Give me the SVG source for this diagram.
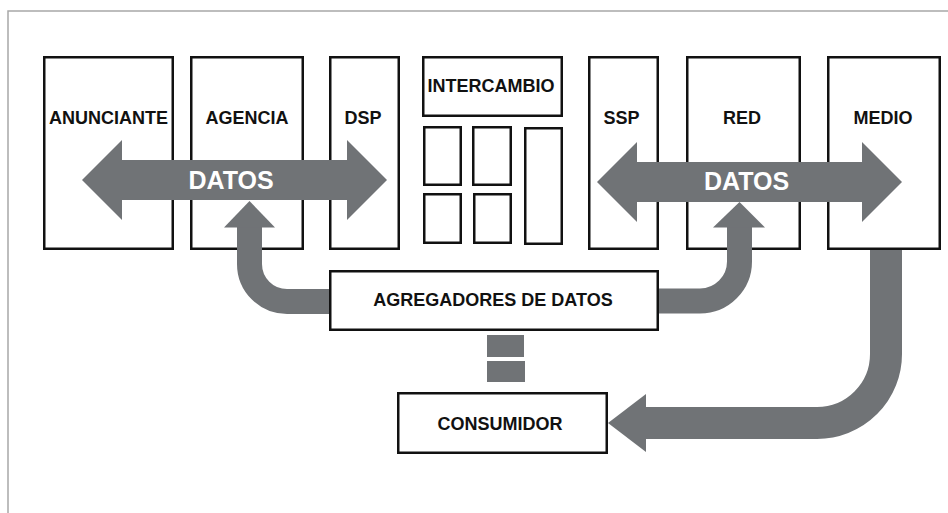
<svg xmlns="http://www.w3.org/2000/svg" width="948" height="513" viewBox="0 0 948 513">
<style>
.box{fill:#fff;stroke:#111;stroke-width:2.5}
.lbl{font-family:"Liberation Sans",Arial,sans-serif;font-weight:bold;font-size:18px;fill:#111;text-anchor:middle}
.dat{font-family:"Liberation Sans",Arial,sans-serif;font-weight:bold;font-size:25px;fill:#fff;text-anchor:middle}
.g{fill:#707376}
.pipe{fill:none;stroke:#707376}
</style>
<rect x="0" y="0" width="948" height="513" fill="#fff"/>
<rect x="8" y="11" width="1000" height="600" fill="none" stroke="#a8a8a8" stroke-width="1.5"/>
<g id="anunciante"><rect class="box" x="44.25" y="57.25" width="128.5" height="191.5"/><text class="lbl" x="108.5" y="124">ANUNCIANTE</text></g>
<g id="agencia"><rect class="box" x="191.25" y="57.25" width="111.5" height="191.5"/><text class="lbl" x="247" y="124">AGENCIA</text></g>
<g id="dsp"><rect class="box" x="330.25" y="57.25" width="68.5" height="191.5"/><text class="lbl" x="363" y="124">DSP</text></g>
<g id="intercambio">
<rect class="box" x="423.25" y="57.25" width="138.5" height="58.5"/>
<text class="lbl" x="491" y="91.5">INTERCAMBIO</text>
<rect class="box" x="424.25" y="127.25" width="36.5" height="57.5"/>
<rect class="box" x="473.25" y="127.25" width="37.5" height="57.5"/>
<rect class="box" x="525.25" y="128.25" width="36.5" height="115.5"/>
<rect class="box" x="424.25" y="194.25" width="36.5" height="48.5"/>
<rect class="box" x="474.25" y="194.25" width="36.5" height="48.5"/>
</g>
<g id="ssp"><rect class="box" x="589.25" y="57.25" width="68.5" height="191.5"/><text class="lbl" x="621.5" y="124">SSP</text></g>
<g id="red"><rect class="box" x="687.25" y="57.25" width="112.5" height="191.5"/><text class="lbl" x="742" y="124">RED</text></g>
<g id="medio"><rect class="box" x="828.25" y="57.25" width="111.5" height="191.5"/><text class="lbl" x="883" y="124">MEDIO</text></g>
<g id="agregadores"><rect class="box" x="330.25" y="271.25" width="327.5" height="58.5"/><text class="lbl" x="493" y="306">AGREGADORES DE DATOS</text></g>
<g id="consumidor"><rect class="box" x="398.25" y="393.25" width="208.5" height="59.5"/><text class="lbl" x="500" y="429.5">CONSUMIDOR</text></g>
<g id="connectors">
<polygon class="g" points="82,180 122,140 122,160 347,160 347,140 387,180 347,220 347,200 122,200 122,220"/>
<text class="dat" x="231" y="188.5">DATOS</text>
<polygon class="g" points="597,182 637,142 637,162 862,162 862,142 902,182 862,222 862,202 637,202 637,222"/>
<text class="dat" x="746.5" y="190">DATOS</text>
<path class="pipe" stroke-width="25" d="M329 301.5 H287 A37.5 37.5 0 0 1 249.5 264 V226"/>
<polygon class="g" points="224,227.5 249.5,201 275,227.5"/>
<path class="pipe" stroke-width="25" d="M659 301 H700 A39.5 39.5 0 0 0 739.5 261.5 V226"/>
<polygon class="g" points="713,227.5 739.5,202 765,227.5"/>
<path class="pipe" stroke-width="32" d="M886 250 V354 A69 69 0 0 1 817 423 H645"/>
<polygon class="g" points="646,394 608,423 646,452"/>
<rect class="g" x="487" y="335" width="37" height="22"/>
<rect class="g" x="487" y="361" width="38" height="21"/>
</g>
</svg>
